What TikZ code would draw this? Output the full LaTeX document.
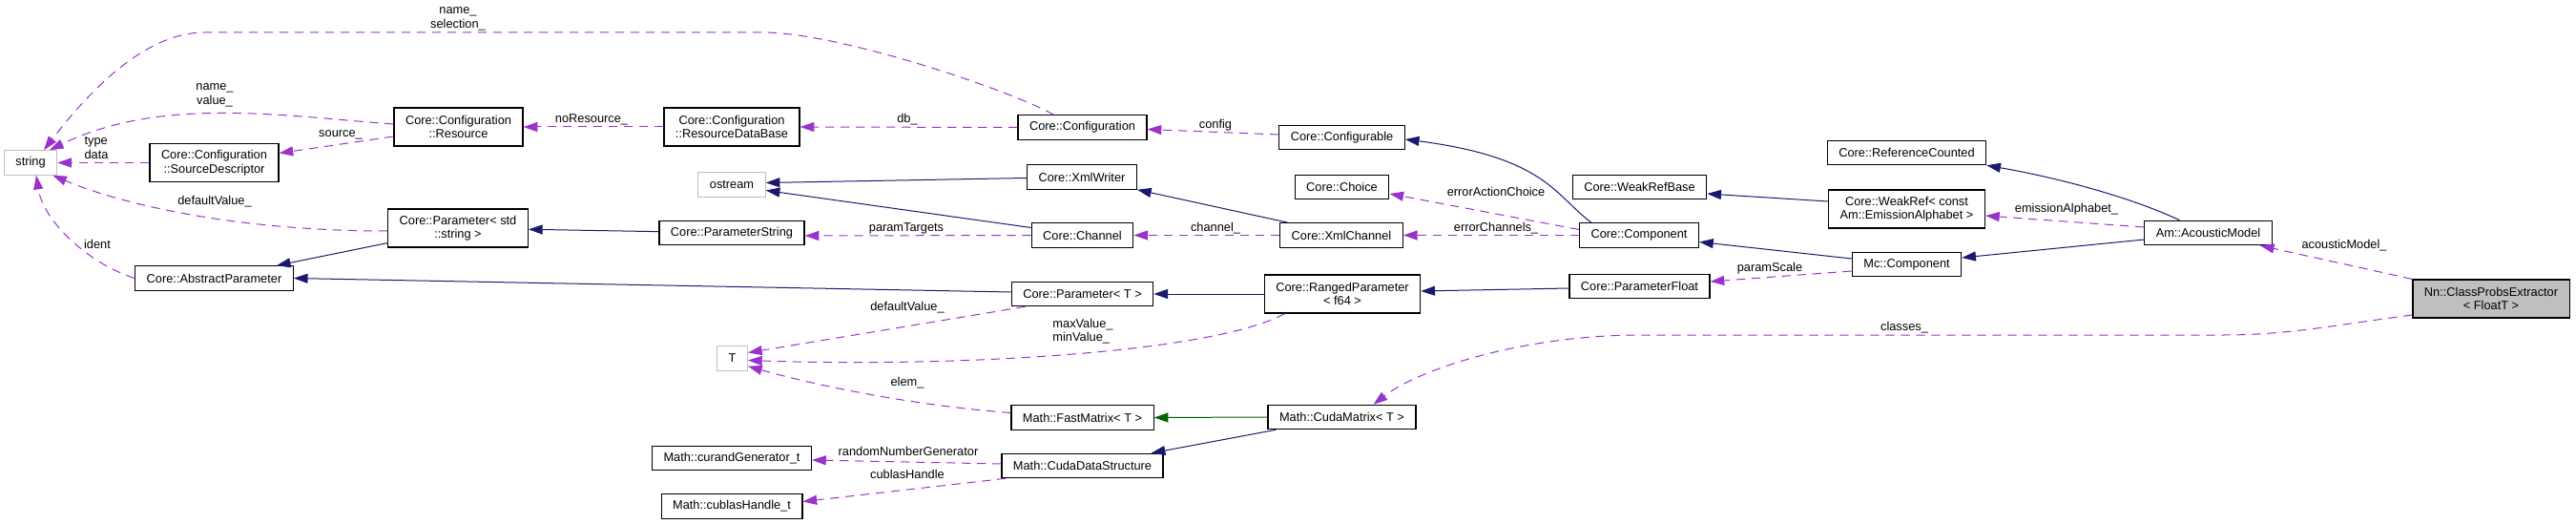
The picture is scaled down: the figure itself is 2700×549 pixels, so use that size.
\documentclass[tikz,border=0pt]{standalone}
\usepackage{fontspec}
\setmainfont{Liberation Sans}
\usepackage{tikz}
\usetikzlibrary{arrows.meta, calc}

\definecolor{inhblue}{HTML}{191970}
\definecolor{protgreen}{HTML}{006400}
\definecolor{usepurple}{HTML}{9A32CD}
\definecolor{extgray}{HTML}{BFBFBF}
\newcommand{\dxfont}{\fontsize{9.6}{10.8}\selectfont}

\begin{document}
\begin{tikzpicture}[
    x=0.75pt, y=-0.75pt,              % <── pixel grid, y pointing down
    cls/.style={draw=black, fill=white, line width=0.9pt, inner xsep=9pt, inner ysep=2pt, minimum height=19pt, align=center, font=\dxfont},
    cls2/.style={cls, minimum height=30pt},
    ext/.style={cls, draw=extgray},
    self/.style={cls2, fill=extgray},
    inh/.style={draw=inhblue, line width=0.75pt, -{Triangle[length=11pt, width=7.5pt]}},
    prot/.style={inh, draw=protgreen},
    uses/.style={draw=usepurple, line width=0.75pt, dash pattern=on 7pt off 5pt, -{Triangle[length=11pt, width=7.5pt]}},
    lbl/.style={font=\dxfont, inner sep=0pt, align=center}
    ]
    \useasboundingbox (0,0) rectangle (2700,549);

    % Nodes
    \node[ext] (string) at (32,170.5) {string};
    \node[cls2] (srcdesc) at (224.5,170.5) {Core::Configuration\\::SourceDescriptor};
    \node[cls] (abstractparam) at (224.5,291.5) {Core::AbstractParameter};
    \node[cls2] (resource) at (480.5,133) {Core::Configuration\\::Resource};
    \node[cls2] (paramstd) at (480,239) {Core::Parameter< std\\::string >};
    \node[cls2] (resdb) at (767,133) {Core::Configuration\\::ResourceDataBase};
    \node[ext] (ostream) at (767,193.5) {ostream};
    \node[cls] (paramstr) at (767,244) {Core::ParameterString};
    \node[ext] (Tnode) at (767.5,375.5) {T};
    \node[cls] (curand) at (767,480) {Math::curandGenerator\_t};
    \node[cls] (cublas) at (767,530.5) {Math::cublasHandle\_t};
    \node[cls] (config) at (1134.5,133.5) {Core::Configuration};
    \node[cls] (xmlwriter) at (1134,185.5) {Core::XmlWriter};
    \node[cls] (channel) at (1134.5,246.5) {Core::Channel};
    \node[cls] (paramT) at (1134.5,308) {Core::Parameter< T >};
    \node[cls] (fastmatrix) at (1134.5,437.5) {Math::FastMatrix< T >};
    \node[cls] (cudads) at (1134.5,488) {Math::CudaDataStructure};
    \node[cls] (configurable) at (1406.5,144) {Core::Configurable};
    \node[cls] (choice) at (1406.5,196) {Core::Choice};
    \node[cls] (xmlchannel) at (1406,246.5) {Core::XmlChannel};
    \node[cls2] (ranged) at (1407,308) {Core::RangedParameter\\< f64 >};
    \node[cls] (cudamatrix) at (1406.5,437) {Math::CudaMatrix< T >};
    \node[cls] (weakrefbase) at (1718.5,196) {Core::WeakRefBase};
    \node[cls] (component) at (1718,246.5) {Core::Component};
    \node[cls] (paramfloat) at (1718.5,300) {Core::ParameterFloat};
    \node[cls] (refcounted) at (1998.5,160) {Core::ReferenceCounted};
    \node[cls2] (weakref) at (1998.5,219) {Core::WeakRef< const\\Am::EmissionAlphabet >};
    \node[cls] (mccomponent) at (1998.5,277) {Mc::Component};
    \node[cls] (acoustic) at (2314.5,244) {Am::AcousticModel};
    \node[self] (extractor) at (2611,313) {Nn::ClassProbsExtractor\\< FloatT >};

    % Inheritance
    \draw[inh] ($(paramstd.south west)+(0,-5)$) -- ($(abstractparam.north east)+(-18,0)$);
    \draw[inh] (paramstr) -- (paramstd);
    \draw[inh] ($(paramT.west)+(0,-2)$) -- (abstractparam.east);
    \draw[inh] (ranged.west) -- (paramT.east);
    \draw[inh] ($(paramfloat.west)+(0,2)$) -- ($(ranged.east)+(0,-3)$);
    \draw[inh] ($(xmlwriter.west)+(0,1)$) -- ($(ostream.east)+(0,-2)$);
    \draw[inh] ($(channel.west)+(0,-8)$) -- ($(ostream.east)+(0,6)$);
    \draw[inh] ($(xmlchannel.north west)+(9,0)$) -- (xmlwriter.south east);
    \draw[inh] ($(component.north)+(-50,0)$) .. controls (1630,205) and (1620,165) .. ($(configurable.east)+(0,2)$);
    \draw[inh] ($(mccomponent.west)+(0,-6)$) -- ($(component.east)+(0,7)$);
    \draw[inh] ($(weakref.west)+(0,-8)$) -- ($(weakrefbase.east)+(0,7)$);
    \draw[inh] ($(acoustic.west)+(0,7)$) -- ($(mccomponent.east)+(0,-7)$);
    \draw[inh] ($(acoustic.north)+(-30,0)$) .. controls (2230,205) and (2150,185) .. (refcounted.south east);
    \draw[prot] (cudamatrix.west) -- (fastmatrix.east);
    \draw[inh] ($(cudamatrix.south west)+(9,0)$) -- ($(cudads.north east)+(-13,0)$);

    % Usage
    \draw[uses] ($(config.north)+(-30,0)$) .. controls (1060,95) and (880,34) .. (800,34) -- (214,34) .. controls (150,34) and (90,100) .. ($(string.north)+(14,0)$);
    \draw[uses] ($(resource.west)+(0,-3)$) .. controls (300,122) and (170,100) .. ($(string.north)+(20,0)$);
    \draw[uses] (srcdesc.west) -- (string.east);
    \draw[uses] ($(resource.west)+(0,10)$) -- ($(srcdesc.east)+(0,-10)$);
    \draw[uses] (resdb.west) -- (resource.east);
    \draw[uses] (config.west) -- (resdb.east);
    \draw[uses] ($(configurable.west)+(0,-3)$) -- ($(config.east)+(0,2)$);
    \draw[uses] ($(paramstd.west)+(0,3)$) .. controls (250,242) and (130,215) .. ($(string.south east)+(-5,0)$);
    \draw[uses] (abstractparam.west) .. controls (90,275) and (45,230) .. ($(string.south)+(6,0)$);
    \draw[uses] (channel.west) -- ($(paramstr.east)+(0,3)$);
    \draw[uses] (xmlchannel.west) -- (channel.east);
    \draw[uses] (component.west) -- (xmlchannel.east);
    \draw[uses] ($(component.west)+(0,-6)$) -- ($(choice.east)+(0,7)$);
    \draw[uses] ($(mccomponent.west)+(0,7)$) -- ($(paramfloat.east)+(0,-5)$);
    \draw[uses] ($(acoustic.west)+(0,-6)$) -- ($(weakref.east)+(0,7)$);
    \draw[uses] (extractor.north west) -- ($(acoustic.south east)+(-13,0)$);
    \draw[uses] ($(extractor.west)+(0,17)$) .. controls (2450,340) and (2400,351) .. (2330,351) -- (1720,351) .. controls (1600,351) and (1490,385) .. ($(cudamatrix.north)+(33,0)$);
    \draw[uses] ($(paramT.south west)+(15,0)$) -- ($(Tnode.east)+(0,-6)$);
    \draw[uses] ($(ranged.south west)+(22,0)$) .. controls (1270,370) and (1000,385) .. ($(Tnode.east)+(0,2)$);
    \draw[uses] ($(fastmatrix.west)+(0,-5)$) .. controls (960,425) and (860,405) .. ($(Tnode.south east)+(0,-5)$);
    \draw[uses] ($(cudads.west)+(0,-2)$) -- ($(curand.east)+(0,2)$);
    \draw[uses] ($(cudads.south west)+(5,0)$) -- ($(cublas.east)+(0,-5)$);

    % Labels
    \node[lbl] (l-sel) at (480,20) {name\_\\selection\_};
    \node[lbl] (l-val) at (225,100) {name\_\\value\_};
    \node[lbl, align=left] (l-data) at (101,155) {type\\data};
    \node[lbl] (l-src) at (357,141) {source\_};
    \node[lbl] (l-nores) at (620,125) {noResource\_};
    \node[lbl] (l-db) at (951,125) {db\_};
    \node[lbl] (l-config) at (1274,131) {config};
    \node[lbl] (l-defstr) at (225,211) {defaultValue\_};
    \node[lbl] (l-ident) at (102,256) {ident};
    \node[lbl] (l-choice) at (1568,201) {errorActionChoice};
    \node[lbl] (l-errch) at (1568,239) {errorChannels\_};
    \node[lbl] (l-chan) at (1274,239) {channel\_};
    \node[lbl] (l-targets) at (950,239) {paramTargets};
    \node[lbl] (l-alpha) at (2166,219) {emissionAlphabet\_};
    \node[lbl] (l-am) at (2457,257) {acousticModel\_};
    \node[lbl] (l-scale) at (1855,281) {paramScale};
    \node[lbl] (l-classes) at (1996,343) {classes\_};
    \node[lbl] (l-defT) at (951,322) {defaultValue\_};
    \node[lbl, align=left] (l-minmax) at (1135,347) {maxValue\_\\minValue\_};
    \node[lbl] (l-elem) at (951,401) {elem\_};
    \node[lbl] (l-rng) at (952,473) {randomNumberGenerator};
    \node[lbl] (l-cublas) at (951,497) {cublasHandle};
\end{tikzpicture}
\end{document}
